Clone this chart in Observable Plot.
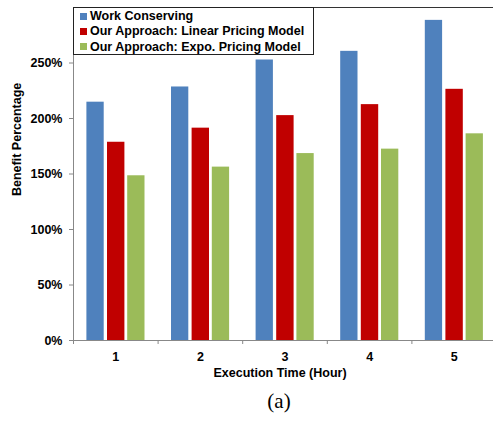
<!DOCTYPE html>
<html><head><meta charset="utf-8">
<script src="https://cdn.jsdelivr.net/npm/d3@7"></script>
<script src="https://cdn.jsdelivr.net/npm/@observablehq/plot@0.6"></script>
<style>
html,body{margin:0;padding:0;background:#fff;overflow:hidden;}
#wrap{position:relative;width:496px;height:422px;}
#legend{position:absolute;left:73px;top:7px;width:241px;height:48px;box-sizing:border-box;border:1px solid #222;background:#fff;font:bold 12.5px "Liberation Sans",Arial,sans-serif;color:#000;}
#legend .row{display:flex;align-items:center;height:15.3px;white-space:nowrap;}
#legend .sw{width:7px;height:7px;margin-left:6px;margin-right:3px;flex-shrink:0;}
</style>
</head><body>
<div id="wrap"></div>
<script>
const hours = [1, 2, 3, 4, 5];
const seriesNames = ["Work Conserving", "Our Approach: Linear Pricing Model", "Our Approach: Expo. Pricing Model"];
const seriesColors = ["#4F81BD", "#C00000", "#9BBB59"];
const workConserving = [214.7, 228.4, 252.7, 260.5, 288.4];
const linearPricing = [178.6, 191.3, 202.6, 212.5, 226.3];
const expoPricing = [148.4, 156.2, 168.4, 172.4, 186.2];
const yTicks = [0, 50, 100, 150, 200, 250];
const yLabel = "Benefit Percentage";
const xLabel = "Execution Time (Hour)";
const caption = "(a)";

const valuesBySeries = [workConserving, linearPricing, expoPricing];
const data = seriesNames.flatMap((s, i) => hours.map((h, j) => ({hour: h, series: s, value: valuesBySeries[i][j]})));
const insets = [[13.4, 53.9], [34, 33.2], [54.2, 13.1]];
const font = "'Liberation Sans', Arial, sans-serif";

const plot = Plot.plot({
  width: 496,
  height: 422,
  marginTop: 7,
  marginBottom: 82,
  marginLeft: 73,
  marginRight: 0,
  style: {fontFamily: font, fontSize: "12.5px", fontWeight: "bold", color: "#000", background: "#fff"},
  x: {type: "linear", domain: [0.5, 5.5], axis: null},
  y: {domain: [0, 300], axis: null},
  color: {domain: seriesNames, range: seriesColors},
  marks: [
    ...seriesNames.map((s, i) => Plot.rectY(data.filter(d => d.series === s), {
      x1: d => d.hour - 0.5, x2: d => d.hour + 0.5, y1: 0, y2: "value",
      fill: "series", insetLeft: insets[i][0], insetRight: insets[i][1]
    })),
    Plot.ruleY([0], {stroke: "#888"}),
    Plot.ruleY([300], {stroke: "#333"}),
    Plot.ruleX([0.5], {stroke: "#888"}),
    Plot.axisY({ticks: yTicks, tickFormat: d => d + "%", tickSize: 4, tickPadding: 7, stroke: "#888", fill: "#000", label: null}),
    Plot.axisX({ticks: hours, tickFormat: d => String(d), tickSize: 0, tickPadding: 12, fill: "#000", label: null}),
    Plot.axisX({ticks: hours.map(h => h - 0.5).concat([hours[hours.length - 1] + 0.5]), tickSize: 4, tickFormat: () => "", stroke: "#888", label: null}),
    Plot.text([yLabel], {frameAnchor: "left", rotate: -90, dx: -57, dy: 22, fontWeight: "bold", fontSize: 12.5}),
    Plot.text([xLabel], {frameAnchor: "bottom", dx: -5, dy: 36, fontWeight: "bold", fontSize: 12.5}),
    Plot.text([caption], {frameAnchor: "bottom", dx: -6, dy: 67, fontWeight: "normal", fontSize: 21, fontFamily: "'Liberation Serif', 'Times New Roman', serif"})
  ]
});
const wrap = document.getElementById("wrap");
wrap.appendChild(plot);

const color = plot.scale("color");
const legend = document.createElement("div");
legend.id = "legend";
legend.style.paddingTop = "0.5px";
color.domain.forEach((s, i) => {
  const row = document.createElement("div");
  row.className = "row";
  const sw = document.createElement("span");
  sw.className = "sw";
  sw.style.background = color.range[i];
  const lab = document.createElement("span");
  lab.textContent = s;
  row.appendChild(sw);
  row.appendChild(lab);
  legend.appendChild(row);
});
wrap.appendChild(legend);
</script>
</body></html>
